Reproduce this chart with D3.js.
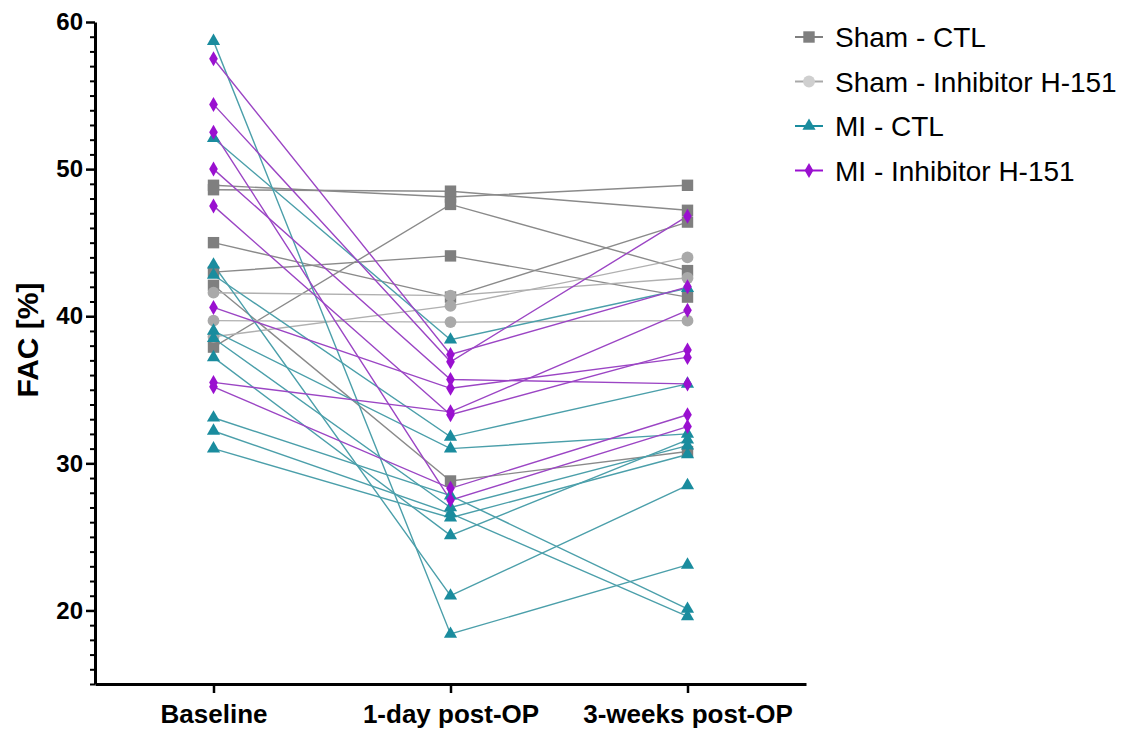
<!DOCTYPE html>
<html>
<head>
<meta charset="utf-8">
<script src="https://cdn.jsdelivr.net/npm/d3@7"></script>
<style>
  body { margin: 0; background: #fff; }
  text { font-family: "Liberation Sans", Arial, sans-serif; }
</style>
</head>
<body>
<div id="chart"></div>
<script>
// time points on the x axis
let categories = ["Baseline", "1-day post-OP", "3-weeks post-OP"];
let yTicks = [20, 30, 40, 50, 60];

// one array per animal: [baseline, 1-day, 3-weeks]
let shamCtl = [
    [48.9, 48.1, 48.9],
    [48.6, 48.5, 47.2],
    [37.9, 47.6, 43.1],
    [45.0, 41.3, 46.4],
    [43.0, 44.1, 41.3],
    [42.1, 28.8, 30.8]
];
let shamInh = [
    [41.6, 41.4, 42.6],
    [38.6, 40.7, 44.0],
    [39.7, 39.6, 39.7]
];
let miCtl = [
    [58.7, 18.4, 23.1],
    [52.1, 38.4, 41.9],
    [43.5, 21.0, 28.5],
    [42.8, 31.8, 35.4],
    [39.0, 31.0, 32.0],
    [38.5, 27.0, 31.2],
    [37.2, 25.1, 31.6],
    [33.1, 27.8, 20.1],
    [32.2, 26.6, 19.6],
    [31.0, 26.3, 30.6]
];
let miInh = [
    [57.5, 37.4, 42.0],
    [54.4, 36.9, 46.8],
    [52.5, 27.5, 32.5],
    [50.0, 35.7, 35.4],
    [47.5, 33.3, 37.7],
    [40.6, 35.1, 37.2],
    [35.5, 33.5, 40.4],
    [35.2, 28.3, 33.3]
];

let groups = [
    {name: "Sham - CTL", rows: shamCtl, symbol: d3.symbolSquare, size: 130, fill: "#7f7f7f", line: "#8a8a8a"},
    {name: "Sham - Inhibitor H-151", rows: shamInh, symbol: d3.symbolCircle, size: 110, fill: "#a9a9a9", line: "#b0b0b0"},
    {name: "MI - CTL", rows: miCtl, symbol: d3.symbolTriangle, size: 75, fill: "#1a8c9e", line: "#4b9faa"},
    {name: "MI - Inhibitor H-151", rows: miInh, symbol: d3.symbolDiamond, size: 65, fill: "#9a10d0", line: "#9b45c4"}
];

let svg = d3.select("#chart").append("svg")
    .attr("width", 1133)
    .attr("height", 729);

let x = d3.scalePoint()
    .domain(categories)
    .range([95, 806])
    .padding(0.5);

let y = d3.scaleLinear()
    .domain([15, 60])
    .range([684, 22]);

// lines first, then markers on top
groups.forEach(function(g) {
    let line = d3.line()
        .x(function(d, i) { return x(categories[i]); })
        .y(function(d) { return y(d); });
    svg.append("g").selectAll("path")
        .data(g.rows)
        .enter()
        .append("path")
            .attr("d", line)
            .attr("fill", "none")
            .attr("stroke", g.line)
            .attr("stroke-width", 1.4);
});

groups.forEach(function(g) {
    let pts = [];
    g.rows.forEach(function(r) {
        r.forEach(function(v, i) { pts.push({c: categories[i], v: v}); });
    });
    svg.append("g").selectAll("path")
        .data(pts)
        .enter()
        .append("path")
            .attr("d", d3.symbol().type(g.symbol).size(g.size))
            .attr("transform", function(d) { return "translate(" + x(d.c) + "," + y(d.v) + ")"; })
            .attr("fill", g.fill);
});

// y axis: minor ticks every 1, majors every 10
svg.append("g")
    .attr("transform", "translate(95,0)")
    .call(d3.axisLeft(y).tickValues(d3.range(15, 61).filter(function(v) { return v % 10 != 0; })).tickSize(5).tickFormat(""))
    .call(function(g) { g.select(".domain").remove(); })
    .selectAll("line").attr("stroke", "#000").attr("stroke-width", 2);

let yAxis = svg.append("g")
    .attr("transform", "translate(95,0)")
    .call(d3.axisLeft(y).tickValues(yTicks).tickSize(9).tickSizeOuter(0).tickPadding(3));
yAxis.select(".domain").attr("stroke-width", 3);
yAxis.selectAll("line").attr("stroke-width", 2.5);
yAxis.selectAll("text")
    .attr("font-size", 24)
    .attr("font-weight", "bold")
    .attr("font-family", "Liberation Sans, Arial, sans-serif")
    .attr("fill", "#000");

let xAxis = svg.append("g")
    .attr("transform", "translate(0,684)")
    .call(d3.axisBottom(x).tickSize(9).tickSizeOuter(0).tickPadding(12));
xAxis.select(".domain").attr("stroke-width", 3);
xAxis.selectAll("line").attr("stroke-width", 2.5);
xAxis.selectAll("text")
    .attr("font-size", 26)
    .attr("font-weight", "bold")
    .attr("font-family", "Liberation Sans, Arial, sans-serif")
    .attr("fill", "#000");

svg.append("text")
    .attr("transform", "translate(38,340) rotate(-90)")
    .attr("text-anchor", "middle")
    .attr("font-size", 30)
    .attr("font-weight", "bold")
    .text("FAC [%]");

// legend
let legend = svg.append("g").attr("transform", "translate(795,37)");
groups.forEach(function(g, i) {
    let row = legend.append("g").attr("transform", "translate(0," + (i * 44.5) + ")");
    row.append("line")
        .attr("x1", 0).attr("x2", 28)
        .attr("stroke", g.fill).attr("stroke-width", 2);
    row.append("path")
        .attr("d", d3.symbol().type(g.symbol).size(g.size))
        .attr("transform", "translate(14,0)")
        .attr("fill", i == 1 ? "#cfcfcf" : g.fill);
    row.append("text")
        .attr("x", 40)
        .attr("y", 10)
        .attr("font-size", 28)
        .attr("fill", "#000")
        .text(g.name);
});
</script>
</body>
</html>
